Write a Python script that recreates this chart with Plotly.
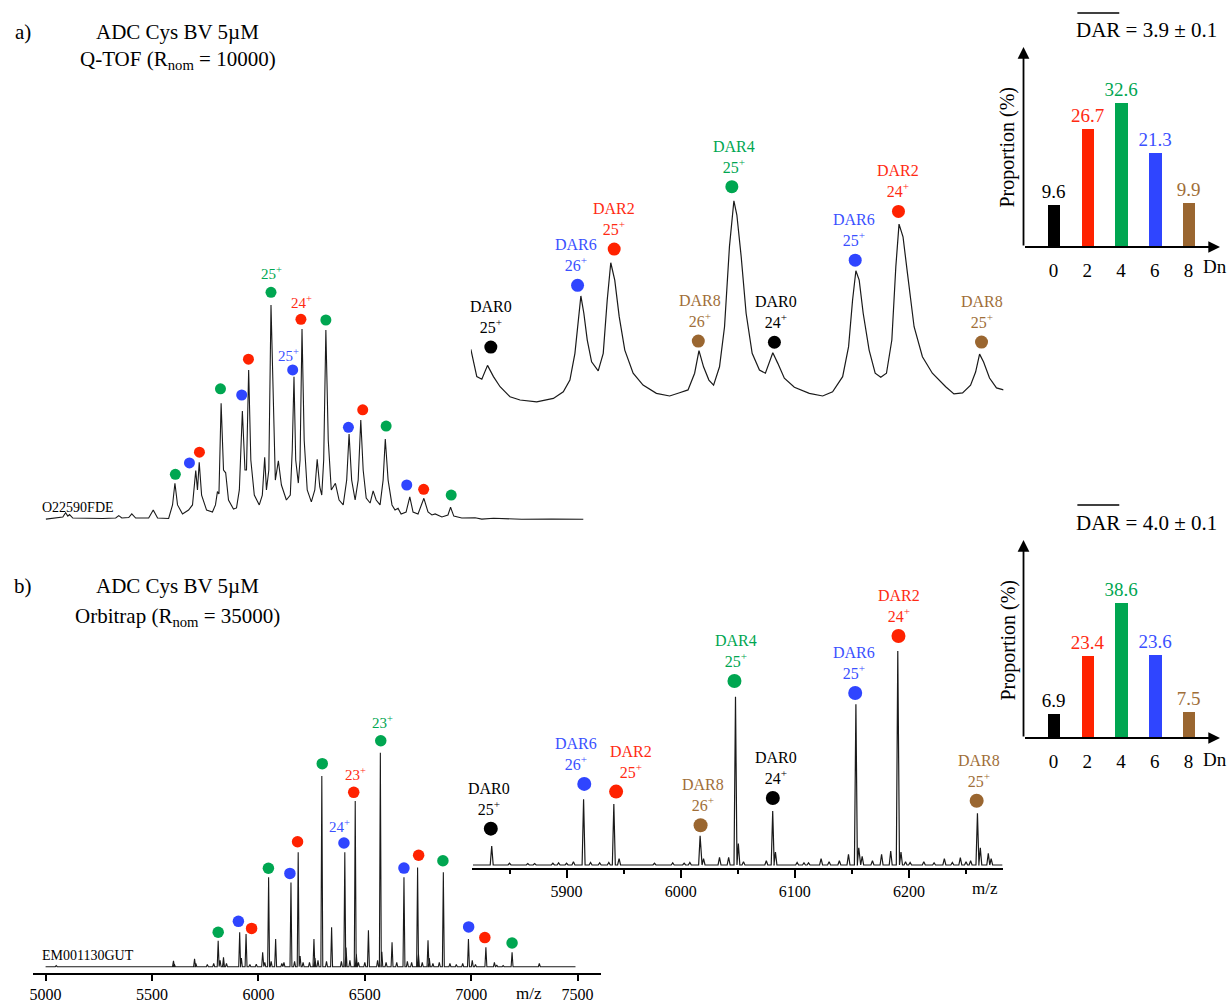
import plotly.graph_objects as go

# ---------------- DATA ----------------
# Q-TOF full spectrum profile (m/z, relative intensity %)
tof_full_mz = [5023, 5101, 5114, 5124, 5132, 5147, 5285, 5345, 5359, 5373,
               5405, 5419, 5437, 5497, 5518, 5538, 5589, 5607, 5618, 5630,
               5653, 5681, 5699, 5714, 5722, 5730, 5741, 5764, 5791, 5805,
               5814, 5821, 5831, 5842, 5852, 5865, 5888, 5902, 5915, 5929,
               5941, 5948, 5958, 5968, 5984, 6007, 6021, 6032, 6040, 6051,
               6061, 6072, 6081, 6095, 6109, 6132, 6150, 6159, 6167, 6175,
               6187, 6195, 6204, 6214, 6228, 6247, 6263, 6274, 6286, 6295,
               6304, 6314, 6325, 6339, 6358, 6375, 6394, 6410, 6421, 6433,
               6449, 6463, 6475, 6486, 6500, 6518, 6532, 6546, 6564, 6578,
               6588, 6601, 6619, 6633, 6647, 6661, 6684, 6701, 6716, 6739,
               6766, 6785, 6803, 6818, 6849, 6877, 6889, 6904, 6941, 7002,
               7033, 7087, 7217, 7355, 7502]
tof_full_int = [0.1, 1.1, 3.1, 1.5, 2.2, 0.6, 0.4, 0.6, 1.7, 0.6,
                0.8, 2.5, 0.6, 0.6, 4.3, 0.6, 0.4, 6.7, 16.8, 6.7,
                2.5, 4.3, 6.7, 22.7, 13.7, 26.6, 11.3, 4.3, 3.4, 6.7,
                12.9, 11.8, 54.1, 23.0, 21.7, 9.0, 4.8, 5.3, 13.7, 50.5,
                23.0, 23.0, 69.7, 27.7, 11.3, 6.7, 11.3, 28.9, 13.7, 23.0,
                100, 46.3, 18.3, 27.3, 16.0, 9.0, 11.3, 32.3, 66.5, 27.7,
                16.9, 27.7, 88.8, 37.0, 13.7, 8.1, 13.7, 28.0, 15.1, 11.3,
                27.7, 88.3, 37.0, 13.7, 16.8, 9.0, 6.7, 18.3, 39.8, 18.3,
                9.0, 18.3, 46.3, 23.0, 9.9, 7.6, 13.3, 9.0, 6.7, 18.3,
                37.5, 18.3, 6.7, 4.3, 5.1, 2.5, 3.4, 10.5, 3.4, 2.5,
                9.8, 3.4, 2.0, 2.5, 1.1, 2.0, 5.6, 1.5, 0.6, 0.7,
                0.1, 0.5, 0, 0.1, 0]
tof_full_dot_mz = [5620, 5685, 5731, 5828, 5926, 5957, 6061, 6161, 6199, 6314,
                   6418, 6484, 6592, 6687, 6765, 6892]
tof_full_dot_int = [21.0, 26.3, 31.3, 60.9, 58.0, 74.7, 105.9, 69.7, 93.3, 93.0,
                    42.9, 51.1, 43.5, 16.0, 14.0, 11.3]
tof_full_dot_dar = [4, 6, 2, 4, 6, 2, 4, 6, 2, 4, 6, 2, 4, 6, 2, 4]
tof_full_charge = {6: "25", 7: "25", 8: "24"}

# Q-TOF zoomed profile
tof_zoom_mz = [5816.1, 5821.3, 5825.7, 5830.7, 5835.9, 5841.7, 5850.4, 5859.2, 5873.8, 5888.4,
               5897.1, 5902.9, 5907.3, 5910.2, 5912.5, 5915.1, 5918.1, 5921.9, 5927.7, 5932.1,
               5935.6, 5938.7, 5942.2, 5946.1, 5951.0, 5958.3, 5967.0, 5978.7, 5990.3, 5999.0,
               6006.4, 6012.2, 6016.0, 6020.0, 6024.7, 6028.8, 6034.0, 6038.4, 6042.7, 6046.6,
               6049.2, 6053.0, 6057.3, 6062.6, 6069.0, 6074.2, 6077.7, 6080.7, 6085.1, 6090.8,
               6099.6, 6112.7, 6124.4, 6133.1, 6141.9, 6147.1, 6150.6, 6153.5, 6156.4, 6159.9,
               6165.1, 6170.4, 6175.3, 6180.3, 6185.0, 6188.5, 6191.3, 6194.8, 6198.7, 6204.5,
               6211.8, 6220.5, 6232.2, 6239.4, 6247.0, 6254.0, 6258.4, 6261.9, 6265.4, 6270.6,
               6276.7, 6282.9]
tof_zoom_int = [26.2, 12.6, 11.3, 18.2, 12.6, 7.6, 2.6, 1.0, 0.1, 1.8,
                5.1, 10.9, 24.2, 40.7, 52.7, 44.1, 30.8, 20.0, 15.5, 24.2,
                50.7, 69.2, 60.6, 42.4, 25.8, 14.3, 8.4, 4.3, 3.0, 4.6,
                6.0, 14.3, 25.5, 17.5, 10.9, 8.4, 17.5, 37.4, 77.2, 100,
                92.9, 72.2, 44.1, 24.2, 15.9, 14.3, 19.5, 24.5, 19.2, 11.8,
                7.3, 4.3, 3.0, 5.1, 12.6, 27.5, 50.7, 65.2, 60.6, 44.1,
                25.8, 14.3, 12.3, 14.3, 30.8, 67.2, 88.4, 82.1, 63.9, 37.4,
                22.5, 14.3, 7.6, 4.0, 4.5, 8.4, 14.9, 23.8, 19.9, 11.9,
                7.0, 6.0]
tof_zoom_dot_mz = [5833.6, 5909.6, 5941.7, 6015.4, 6044.8, 6082.1, 6152.9, 6190.8, 6263.6]
tof_zoom_dot_int = [27.3, 58.0, 76.0, 30.3, 107.0, 29.7, 70.5, 94.7, 29.8]
zoom_dar = [0, 6, 2, 8, 4, 0, 6, 2, 8]
zoom_charge = [25, 26, 25, 26, 25, 24, 25, 24, 25]

# Orbitrap full spectrum peaks (m/z, relative intensity %)
orbi_full_peak_mz = [5050, 5601, 5605, 5700, 5706, 5760, 5790, 5811, 5820, 5835, 5836, 5850,
                     5912, 5920, 5942, 5960, 5990, 6020, 6030, 6048, 6060, 6081, 6110,
                     6120, 6153, 6170, 6187, 6196, 6210, 6240, 6261, 6266, 6280, 6298,
                     6320, 6344, 6390, 6406, 6412, 6430, 6455, 6460, 6470, 6500, 6517,
                     6560, 6573, 6580, 6600, 6628, 6650, 6684, 6700, 6720, 6748, 6752,
                     6770, 6797, 6803, 6820, 6850, 6869, 6900, 6930, 6960, 6987, 7005,
                     7020, 7069, 7109, 7120, 7150, 7192, 7320]
orbi_full_peak_int = [0.5, 2.8, 1.2, 3.7, 1.5, 1.0, 1.5, 12.1, 3.0, 2.0, 4.4, 1.5,
                      16.1, 4.0, 15.3, 1.0, 1.2, 6.7, 2.0, 41.8, 2.5, 12.9, 1.5,
                      2.0, 39.4, 2.5, 53.5, 5.0, 2.0, 2.0, 12.9, 4.0, 3.0, 89.1,
                      2.5, 18.4, 2.5, 53.5, 9.0, 3.0, 77.4, 6.0, 2.0, 2.0, 17.0,
                      3.0, 100, 7.0, 2.0, 11.4, 2.0, 41.8, 2.5, 2.0, 46.4, 6.0,
                      2.0, 12.3, 4.0, 1.5, 2.0, 44.1, 1.5, 1.0, 1.5, 12.9, 3.0,
                      1.0, 9.1, 2.0, 0.8, 0.5, 6.7, 1.5]
orbi_full_dot_mz = [5811, 5906, 5968, 6047, 6148, 6184, 6300, 6402, 6448, 6575,
                    6684, 6753, 6867, 6988, 7064, 7192]
orbi_full_dot_int = [16.1, 21.2, 17.9, 46.0, 43.6, 58.4, 94.9, 57.8, 81.5, 105.6,
                     46.1, 52.1, 49.5, 18.6, 13.6, 11.1]
orbi_full_dot_dar = [4, 6, 2, 4, 6, 2, 4, 6, 2, 4, 6, 2, 4, 6, 2, 4]
orbi_full_charge = {9: "23", 8: "23", 7: "24"}

# Orbitrap zoomed peaks
orbi_zoom_peak_mz = [5834.4, 5850, 5866, 5872, 5888, 5893, 5900, 5906, 5914.9, 5921, 5929,
                     5937, 5941.4, 5946, 5977, 5993, 6003, 6008, 6017.0, 6020, 6034,
                     6042, 6048.0, 6050.5, 6055, 6075, 6080.6, 6083, 6102, 6108, 6112,
                     6123, 6130, 6139, 6147, 6153.5, 6156, 6159, 6168, 6176, 6184,
                     6190.2, 6193, 6197, 6201, 6213, 6222, 6231, 6238, 6245, 6250,
                     6254, 6260.0, 6262.5, 6269.5, 6272]
orbi_zoom_peak_int = [8.9, 0.8, 0.7, 0.7, 0.8, 1.0, 0.8, 1.5, 30.7, 1.2, 1.0,
                      1.2, 28.5, 3.0, 0.8, 1.0, 0.8, 1.2, 13.6, 3.0, 3.6,
                      3.6, 78.6, 10.0, 1.5, 2.0, 25.2, 6.0, 1.2, 1.0, 1.0,
                      3.0, 1.5, 2.0, 5.0, 75.1, 8.0, 4.0, 2.0, 5.0, 6.5,
                      100, 6.0, 1.5, 1.2, 1.5, 1.0, 3.0, 1.2, 3.5, 1.5,
                      2.0, 24.2, 8.0, 5.5, 3.0]
orbi_zoom_dot_mz = [5833.6, 5915.5, 5943.4, 6017.4, 6047.1, 6080.7, 6152.9, 6190.8, 6259.3]
orbi_zoom_dot_int = [17.0, 37.9, 34.3, 18.6, 86.0, 31.3, 80.4, 107.0, 30.0]

# DAR distributions
dar_levels = [0, 2, 4, 6, 8]
tof_props = [9.6, 26.7, 32.6, 21.3, 9.9]
orbi_props = [6.9, 23.4, 38.6, 23.6, 7.5]
tof_mean = "3.9 ± 0.1"
orbi_mean = "4.0 ± 0.1"
full_ticks = [5000, 5500, 6000, 6500, 7000, 7500]
zoom_ticks = [5900, 6000, 6100, 6200]

# ---------------- STYLE ----------------
W, H = 1231, 1003
FONT = "Liberation Serif"
DOT = {0: "#000000", 2: "#FF2200", 4: "#00A651", 6: "#2F45FF", 8: "#9A6630"}
TXT = {0: "#000000", 2: "#FF2A12", 4: "#00A651", 6: "#3A50FF", 8: "#A06E38"}


def px(x):
    return x / W


def py(y):
    return 1 - y / H


def sticks(centers, heights, half, start, end):
    pairs = sorted(zip(centers, heights))
    xs, ys = [start], [0]
    for c, h in pairs:
        xs += [c - half, c, c + half]
        ys += [0, h, 0]
    xs.append(end)
    ys.append(0)
    return xs, ys


fig = go.Figure()
ann = []

# ---- axes layout ----
hidden = dict(visible=False, showgrid=False, zeroline=False)
layout_axes = dict(
    xaxis=dict(domain=[px(38), px(582)], range=[5000, 7502.4], anchor="y", **hidden),
    yaxis=dict(domain=[py(525), py(260)], range=[-2.66, 121.0], anchor="x", **hidden),
    xaxis2=dict(domain=[px(469), px(1003)], range=[5816.1, 6282.9], anchor="y2", **hidden),
    yaxis2=dict(domain=[py(410), py(140)], range=[-3.97, 130.2], anchor="x2", **hidden),
    xaxis3=dict(domain=[px(1023), px(1220)], range=[-1.775, 9.86], anchor="y3",
                showline=False, showgrid=False, zeroline=False, tickvals=dar_levels,
                ticks="outside", ticklen=6, tickcolor="rgba(0,0,0,0)",
                tickfont=dict(family=FONT, size=19, color="black")),
    yaxis3=dict(domain=[py(247), py(47)], range=[0, 45.25], anchor="x3", **hidden),
    xaxis4=dict(domain=[px(30), px(599)], range=[4940.5, 7607.7], anchor="y4",
                showline=True, linewidth=2, linecolor="black", showgrid=False, zeroline=False,
                tickvals=full_ticks, ticks="outside", ticklen=6, tickwidth=2, tickcolor="black",
                tickfont=dict(family=FONT, size=16, color="black")),
    yaxis4=dict(domain=[py(972.7), py(720)], range=[-2.8, 115.3], anchor="x4", **hidden),
    xaxis5=dict(domain=[px(470), px(1002)], range=[5817, 6282], anchor="y5",
                showline=True, linewidth=2, linecolor="black", showgrid=False, zeroline=False,
                tickvals=zoom_ticks, ticks="outside", ticklen=8, tickwidth=2, tickcolor="black",
                minor=dict(dtick=50, tick0=5850, ticks="outside", ticklen=4, tickwidth=1.5,
                           tickcolor="black"),
                tickfont=dict(family=FONT, size=16, color="black")),
    yaxis5=dict(domain=[py(867.7), py(620)], range=[-1.26, 114.5], anchor="x5", **hidden),
    xaxis6=dict(domain=[px(1023), px(1220)], range=[-1.775, 9.86], anchor="y6",
                showline=False, showgrid=False, zeroline=False, tickvals=dar_levels,
                ticks="outside", ticklen=6, tickcolor="rgba(0,0,0,0)",
                tickfont=dict(family=FONT, size=19, color="black")),
    yaxis6=dict(domain=[py(738), py(540)], range=[0, 56.57], anchor="x6", **hidden),
)

# ---- spectra ----
fig.add_trace(go.Scatter(x=tof_full_mz, y=tof_full_int, mode="lines", xaxis="x", yaxis="y",
                         line=dict(color="#1a1a1a", width=1.1), hoverinfo="skip"))
fig.add_trace(go.Scatter(x=tof_zoom_mz, y=tof_zoom_int, mode="lines", xaxis="x2", yaxis="y2",
                         line=dict(color="#1a1a1a", width=1.2), hoverinfo="skip"))
fx, fy = sticks(orbi_full_peak_mz, orbi_full_peak_int, 4.5, 5000, 7490)
fig.add_trace(go.Scatter(x=fx, y=fy, mode="lines", xaxis="x4", yaxis="y4",
                         line=dict(color="#1a1a1a", width=1.1), hoverinfo="skip"))
zx, zy = sticks(orbi_zoom_peak_mz, orbi_zoom_peak_int, 1.3, 5818, 6282)
fig.add_trace(go.Scatter(x=zx, y=zy, mode="lines", xaxis="x5", yaxis="y5",
                         line=dict(color="#1a1a1a", width=1.2), hoverinfo="skip"))

# ---- dots ----
fig.add_trace(go.Scatter(x=tof_full_dot_mz, y=tof_full_dot_int, mode="markers", xaxis="x", yaxis="y",
                         marker=dict(size=11, color=[DOT[d] for d in tof_full_dot_dar]),
                         hoverinfo="skip"))
fig.add_trace(go.Scatter(x=orbi_full_dot_mz, y=orbi_full_dot_int, mode="markers", xaxis="x4", yaxis="y4",
                         marker=dict(size=11.5, color=[DOT[d] for d in orbi_full_dot_dar]),
                         hoverinfo="skip"))
fig.add_trace(go.Scatter(x=tof_zoom_dot_mz, y=tof_zoom_dot_int, mode="markers", xaxis="x2", yaxis="y2",
                         marker=dict(size=13, color=[DOT[d] for d in zoom_dar]), hoverinfo="skip"))
fig.add_trace(go.Scatter(x=orbi_zoom_dot_mz, y=orbi_zoom_dot_int, mode="markers", xaxis="x5", yaxis="y5",
                         marker=dict(size=14, color=[DOT[d] for d in zoom_dar]), hoverinfo="skip"))

# ---- bars ----
for xa, ya, props in (("x3", "y3", tof_props), ("x6", "y6", orbi_props)):
    fig.add_trace(go.Bar(x=dar_levels, y=props, xaxis=xa, yaxis=ya, width=0.74,
                         marker=dict(color=[DOT[d] for d in dar_levels], line=dict(width=0)),
                         text=[f"{v:.1f}" for v in props], textposition="outside",
                         constraintext="none",
                         textfont=dict(family=FONT, size=19, color=[TXT[d] for d in dar_levels]),
                         cliponaxis=False, hoverinfo="skip"))

# ---- labels on zoom spectra ----
zoom_xshift = {
    "x2": [0, -2, 0, 2, 2, 2, -1, 0, 0],
    "x5": [-2, -8, 15, 2, 2, 3, -1, 1, 2],
}
for xa, ya, mzs, ints in (("x2", "y2", tof_zoom_dot_mz, tof_zoom_dot_int),
                          ("x5", "y5", orbi_zoom_dot_mz, orbi_zoom_dot_int)):
    for i, (m, v) in enumerate(zip(mzs, ints)):
        d, z = zoom_dar[i], zoom_charge[i]
        ann.append(dict(x=m, y=v, xref=xa, yref=ya, showarrow=False,
                        text=f"DAR{d}<br>{z}<sup>+</sup>", yanchor="middle", xanchor="center",
                        yshift=30, xshift=zoom_xshift[xa][i],
                        font=dict(family=FONT, size=16, color=TXT[d])))

# charge labels on full spectra
full_shift = {("x", 6): (1, 19), ("x", 7): (-4, 15), ("x", 8): (1, 17),
              ("x4", 9): (2, 19), ("x4", 8): (2, 18), ("x4", 7): (-4, 17)}
for xa, ya, mzs, ints, dars, charges in (
        ("x", "y", tof_full_dot_mz, tof_full_dot_int, tof_full_dot_dar, tof_full_charge),
        ("x4", "y4", orbi_full_dot_mz, orbi_full_dot_int, orbi_full_dot_dar, orbi_full_charge)):
    for i, z in charges.items():
        dx, dy = full_shift[(xa, i)]
        ann.append(dict(x=mzs[i], y=ints[i], xref=xa, yref=ya, showarrow=False,
                        text=f"{z}<sup>+</sup>", yanchor="middle", xanchor="center",
                        yshift=dy, xshift=dx, font=dict(family=FONT, size=15, color=TXT[dars[i]])))

# ---- bar axis arrows ----
for xa, ya, ytop in (("x3", "y3", 45.25), ("x6", "y6", 56.57)):
    ann.append(dict(x=9.86, y=0, ax=-1.775, ay=0, xref=xa, yref=ya, axref=xa, ayref=ya,
                    showarrow=True, arrowhead=2, arrowsize=1.3, arrowwidth=1.8, arrowcolor="black",
                    text=""))
    ann.append(dict(x=-1.775, y=ytop, ax=-1.775, ay=0, xref=xa, yref=ya, axref=xa, ayref=ya,
                    showarrow=True, arrowhead=2, arrowsize=1.3, arrowwidth=1.8, arrowcolor="black",
                    text=""))

# ---- text annotations (paper) ----
def ptext(x, y, text, size, anchor="center", angle=0, color="black"):
    ann.append(dict(x=px(x), y=py(y), xref="paper", yref="paper", showarrow=False, text=text,
                    xanchor=anchor, yanchor="middle", textangle=angle,
                    font=dict(family=FONT, size=size, color=color)))


ptext(10, 32, "a)", 21, anchor="left")
ptext(175, 32, "ADC Cys BV 5µM", 21)
ptext(175, 60, "Q-TOF (R<sub>nom</sub> = 10000)", 21)
ptext(9, 586, "b)", 21, anchor="left")
ptext(175, 586, "ADC Cys BV 5µM", 21)
ptext(175, 617, "Orbitrap (R<sub>nom</sub> = 35000)", 21)
ptext(37, 507, "O22590FDE", 14, anchor="left")
ptext(37, 955, "EM001130GUT", 14, anchor="left")
ptext(527, 993, "m/z", 17)
ptext(984, 888, "m/z", 17)
ptext(1074, 30, "DAR = " + tof_mean, 21, anchor="left")
ptext(1074, 523, "DAR = " + orbi_mean, 21, anchor="left")
ptext(1007, 147, "Proportion (%)", 20, angle=-90)
ptext(1007, 640, "Proportion (%)", 20, angle=-90)
ptext(1229, 266, "Dn", 19, anchor="right")
ptext(1229, 759, "Dn", 19, anchor="right")

shapes = [
    dict(type="line", xref="paper", yref="paper", x0=px(1077), x1=px(1119), y0=py(13), y1=py(13),
         line=dict(color="black", width=1.5)),
    dict(type="line", xref="paper", yref="paper", x0=px(1077), x1=px(1119), y0=py(505), y1=py(505),
         line=dict(color="black", width=1.5)),
]

fig.update_layout(
    width=W, height=H, margin=dict(l=0, r=0, t=0, b=0),
    paper_bgcolor="white", plot_bgcolor="rgba(0,0,0,0)",
    showlegend=False, annotations=ann, shapes=shapes, bargap=0,
    **layout_axes,
)

fig.write_html("out.html", config={"displayModeBar": False},
               post_script="document.body.style.margin='0px';document.body.style.overflow='hidden';")
